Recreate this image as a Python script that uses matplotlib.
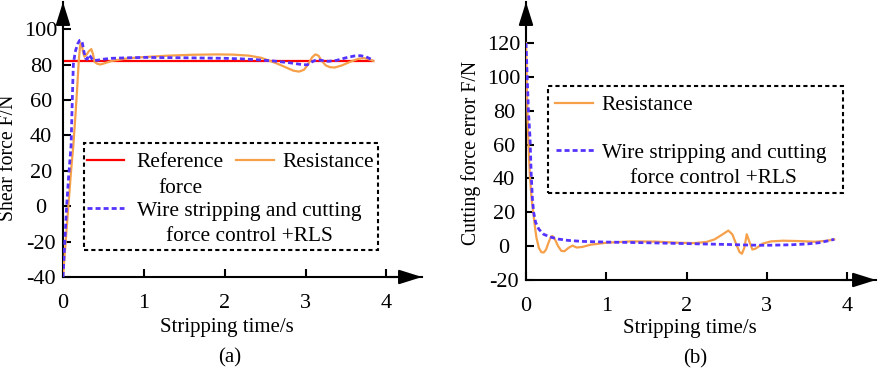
import matplotlib
matplotlib.use("Agg")
import matplotlib.pyplot as plt
from matplotlib.patches import Rectangle
from matplotlib.lines import Line2D

# ---------------- data ----------------
# Panel (a): shear force
ref_t = [0.0, 3.84]
ref_f = [82, 82]

res_a_t = [0.00, 0.033, 0.066, 0.10, 0.128, 0.155, 0.177, 0.195, 0.21, 0.22, 0.235, 0.25, 0.265,
           0.29, 0.32, 0.35, 0.37, 0.39, 0.42, 0.46, 0.50, 0.60, 0.80, 1.00, 1.30, 1.60, 1.90,
           2.10, 2.30, 2.45, 2.55, 2.65, 2.75, 2.85, 2.92, 2.98, 3.03, 3.08, 3.12, 3.16, 3.20,
           3.25, 3.30, 3.36, 3.45, 3.55, 3.65, 3.72, 3.78, 3.84]
res_a_f = [-40, -20, 0, 20, 34.5, 52, 68, 82, 90, 92, 90.5, 86.5, 84.4,
           85.5, 87.5, 88.7, 86, 81.5, 80.5, 80, 80.5, 82, 83.5, 84.2, 85, 85.5, 85.7,
           85.6, 85, 83.8, 82.2, 80.5, 78.5, 76.5, 76, 77, 80, 84, 85.7, 85, 82,
           79.5, 78.5, 78.3, 79.5, 81.5, 83.2, 83.6, 83, 82]

rls_a_t = [0.00, 0.045, 0.07, 0.10, 0.112, 0.12, 0.128, 0.15, 0.18, 0.205, 0.22, 0.24, 0.26,
           0.28, 0.30, 0.32, 0.34, 0.37, 0.42, 0.50, 0.60, 0.80, 1.00, 1.50, 2.00, 2.20,
           2.40, 2.60, 2.80, 2.95, 3.02, 3.08, 3.14, 3.20, 3.28, 3.38, 3.50, 3.60, 3.68,
           3.75, 3.80, 3.84]
rls_a_f = [-40, 0, 17, 34.5, 55, 68, 80, 87, 91.5, 93.6, 93.8, 92, 87,
           83.4, 83, 85.5, 84.5, 82.3, 82.4, 83, 83.5, 83.8, 84, 83.8, 83.5, 83.2,
           82.7, 82, 81, 80, 79.8, 81.5, 82.8, 82.3, 81.8, 82.3, 83.8, 84.8, 85,
           84.3, 83.2, 82.2]

# Panel (b): cutting force error
res_b_t = [0.00, 0.01, 0.02, 0.035, 0.05, 0.07, 0.09, 0.11, 0.13, 0.16, 0.19, 0.22, 0.25,
           0.28, 0.31, 0.33, 0.36, 0.40, 0.44, 0.48, 0.53, 0.58, 0.63, 0.70, 0.80, 1.00,
           1.30, 1.60, 1.90, 2.10, 2.25, 2.35, 2.45, 2.52, 2.57, 2.62, 2.66, 2.69, 2.72,
           2.75, 2.78, 2.82, 2.86, 2.95, 3.05, 3.20, 3.40, 3.60, 3.75, 3.84]
res_b_f = [120, 95, 75, 55, 40, 28, 20, 12, 5, -1, -3.5, -3.8, -2,
           2, 5.5, 6, 4, 0, -2.8, -3, -1, 0.3, -0.8, -0.5, 0.8, 2,
           2.8, 2.7, 2, 1.8, 2.5, 4, 7, 9.2, 7, 1, -3.5, -4.5, -1,
           7, 3, -2, -1.5, 1.5, 2.8, 3.2, 3, 2.6, 3.2, 4]

rls_b_t = [0.00, 0.015, 0.03, 0.05, 0.065, 0.08, 0.095, 0.12, 0.16, 0.22, 0.30, 0.40, 0.52,
           0.70, 1.00, 1.50, 2.00, 2.50, 2.80, 3.00, 3.30, 3.50, 3.65, 3.75, 3.84]
rls_b_f = [120, 100, 80, 64, 42, 28, 20, 14, 10, 7, 5.4, 4.2, 3.4,
           2.8, 2.4, 2.0, 1.5, 1.0, 0.6, 0.5, 0.8, 1.3, 2.0, 3.0, 4.0]

x_ticks = [0, 1, 2, 3, 4]
y_ticks_a = [-40, -20, 0, 20, 40, 60, 80, 100]
y_ticks_b = [-20, 0, 20, 40, 60, 80, 100, 120]

# ---------------- style ----------------
RED = "#ff0000"
ORANGE = "#f7a04a"
BLUE = "#5533ff"
FONT = "Liberation Serif"
FS = 15
TFS = 16
YFS = 14.2
LFS = 15.4

plt.rcParams["font.family"] = [FONT, "DejaVu Serif"]
plt.rcParams["font.size"] = FS
plt.rcParams["axes.unicode_minus"] = False

W, H = 886, 368
fig = plt.figure(figsize=(W / 100, H / 100), dpi=100)


def fx(x):
    return x / W


def fy(y):
    return 1 - y / H


def make_axes(left, right, bottom, top, xlim, ylim, yticks):
    ax = fig.add_axes([fx(left), fy(bottom), fx(right) - fx(left), fy(top) - fy(bottom)])
    ax.set_xlim(*xlim)
    ax.set_ylim(*ylim)
    for s in ["top", "right"]:
        ax.spines[s].set_visible(False)
    for s in ["left", "bottom"]:
        ax.spines[s].set_linewidth(1.5)
    ax.set_xticks(x_ticks)
    ax.set_yticks(yticks)
    ax.tick_params(axis="both", direction="in", length=6, width=1.5, labelsize=TFS)
    ax.tick_params(axis="x", pad=12)
    ax.tick_params(axis="y", pad=16)
    for lab in ax.get_yticklabels():
        lab.set_horizontalalignment("center")
    ax.patch.set_alpha(0)
    # arrows
    ap = dict(arrowstyle="-|>,head_length=0.7,head_width=0.22", color="k", lw=1.5,
              shrinkA=0, shrinkB=0, mutation_scale=20)
    ax.annotate("", xy=(1.0, 0), xytext=(0.9, 0), xycoords="axes fraction",
                textcoords="axes fraction", arrowprops=ap, annotation_clip=False)
    ax.annotate("", xy=(0, 1.0), xytext=(0, 0.9), xycoords="axes fraction",
                textcoords="axes fraction", arrowprops=ap, annotation_clip=False)
    return ax


DASH = (0, (1.8, 1.1))

# ---- panel (a)
axa = make_axes(63, 422, 277, 2, (0, 4.44), (-40, 115.3), y_ticks_a)
axa.plot(ref_t, ref_f, color=RED, lw=1.6, zorder=2)
axa.plot(res_a_t, res_a_f, color=ORANGE, lw=1.6, zorder=3)
axa.plot(rls_a_t, rls_a_f, color=BLUE, lw=2.0, linestyle=DASH, zorder=4)

# ---- panel (b)
axb = make_axes(526, 876, 280, 2, (0, 4.36), (-20, 144.2), y_ticks_b)
axb.plot(res_b_t, res_b_f, color=ORANGE, lw=1.6, zorder=3)
axb.plot(rls_b_t, rls_b_f, color=BLUE, lw=2.0, linestyle=DASH, zorder=4)

# ---- axis labels and captions
fig.text(fx(9), fy(158), "Shear force F/N", rotation=90, ha="center", va="center", fontsize=YFS)
fig.text(fx(471.5), fy(152.5), "Cutting force error F/N", rotation=90, ha="center", va="center", fontsize=YFS)
fig.text(fx(226.5), fy(332), "Stripping time/s", ha="center", va="baseline", fontsize=FS)
fig.text(fx(690), fy(333), "Stripping time/s", ha="center", va="baseline", fontsize=FS)
fig.text(fx(230), fy(362), "(a)", ha="center", va="baseline", fontsize=FS)
fig.text(fx(695), fy(363), "(b)", ha="center", va="baseline", fontsize=FS)


# ---- legends (manual, to reproduce the multi-line centred layout)
def frame(x0, y0, x1, y1):
    fig.add_artist(Rectangle((fx(x0), fy(y1)), fx(x1) - fx(x0), fy(y0) - fy(y1),
                             transform=fig.transFigure, fill=False, edgecolor="k",
                             lw=1.5, linestyle=(0, (2, 1.5)), zorder=10))


def handle(x0, x1, y, color, ls="-", lw=1.6):
    fig.add_artist(Line2D([fx(x0), fx(x1)], [fy(y), fy(y)], transform=fig.transFigure,
                          color=color, lw=lw, linestyle=ls, zorder=10))


def label(x, y, s, ha="center"):
    fig.text(fx(x), fy(y), s, ha=ha, va="baseline", fontsize=LFS, zorder=10)


# legend (a)
frame(84, 143, 378, 250)
handle(87, 124, 160, RED)
label(180, 167, "Reference")
label(180, 193, "force")
handle(236, 274, 160, ORANGE)
label(282, 167, "Resistance", ha="left")
handle(87, 124, 208, BLUE, ls=DASH, lw=2.0)
label(249.5, 216, "Wire stripping and cutting")
label(249.5, 241, "force control +RLS")

# legend (b)
frame(548, 86, 843, 193)
handle(555, 593, 103, ORANGE)
label(601, 110, "Resistance", ha="left")
handle(556, 595, 150, BLUE, ls=DASH, lw=2.0)
label(714.5, 158, "Wire stripping and cutting")
label(713.5, 183, "force control +RLS")

fig.savefig("out.png", dpi=100)
